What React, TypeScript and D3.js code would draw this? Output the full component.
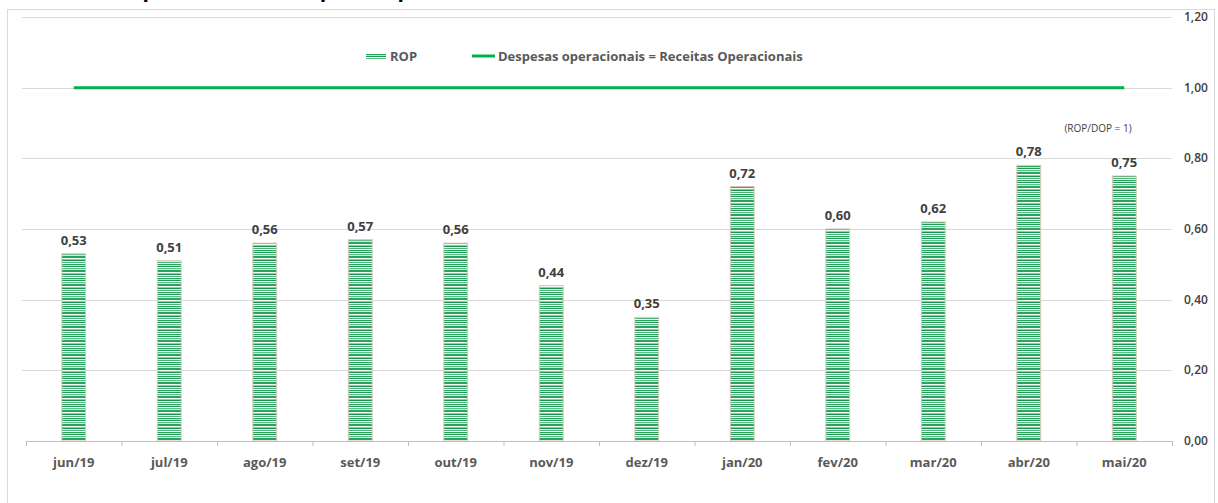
import React, {useEffect, useRef} from 'react';
import * as d3 from 'd3';

// ROP = receitas operacionais / despesas operacionais
const months = ['jun/19', 'jul/19', 'ago/19', 'set/19', 'out/19', 'nov/19', 'dez/19', 'jan/20', 'fev/20', 'mar/20', 'abr/20', 'mai/20'];
const ropValues = [0.53, 0.51, 0.56, 0.57, 0.56, 0.44, 0.35, 0.72, 0.60, 0.62, 0.78, 0.75];
const equilibrio = [1, 1, 1, 1, 1, 1, 1, 1, 1, 1, 1, 1];
const yTicks = [0, 0.2, 0.4, 0.6, 0.8, 1.0, 1.2];

const W = 1218;
const H = 503;
const FONT = '"Open Sans", sans-serif';

function App() {
    const ref = useRef<SVGSVGElement | null>(null);

    useEffect(() => {
        const svg = d3.select(ref.current);
        svg.selectAll('*').remove();

        const fmt = (v: number) => d3.format('.2f')(v).replace('.', ',');

        const x = d3.scaleBand().domain(months).range([26, 1172]).paddingInner(0.75).paddingOuter(0.375);
        const y = d3.scaleLinear().domain([0, 1.2]).range([441, 17]);

        // striped fill for the bars
        const defs = svg.append('defs');
        const pat = defs.append('pattern')
            .attr('id', 'stripes')
            .attr('patternUnits', 'userSpaceOnUse')
            .attr('width', 8)
            .attr('height', 14);
        const stripes = [
            ['#1f9a55', 1], ['#ffffff', 1], ['#5fbb85', 1], ['#cfead9', 1],
            ['#2aa263', 2], ['#f4fbf6', 1], ['#8fcda8', 1], ['#1c8f4e', 1],
            ['#e6f4ea', 1], ['#4db37a', 1], ['#ffffff', 1], ['#2f9f63', 1], ['#bfe3cc', 1]
        ];
        let sy = 0;
        stripes.forEach(([c, h]) => {
            pat.append('rect').attr('x', 0).attr('y', sy).attr('width', 8).attr('height', h as number).attr('fill', c as string);
            sy += h as number;
        });

        // frame
        svg.append('rect')
            .attr('x', 7.5).attr('y', 9.5)
            .attr('width', 1207).attr('height', 520)
            .attr('fill', 'none').attr('stroke', '#d9d9d9');

        // title, mostly above the visible area
        svg.append('text')
            .attr('x', 36).attr('y', -3)
            .attr('font-family', FONT).attr('font-weight', 700).attr('font-size', 21)
            .attr('fill', '#000')
            .text('Receitas operacionais / despesas operacionais');

        // gridlines
        svg.append('g').selectAll('line')
            .data(yTicks.filter((t) => t > 0))
            .enter().append('line')
            .attr('x1', 22).attr('x2', 1172)
            .attr('y1', (d) => Math.round(y(d)) + 0.5).attr('y2', (d) => Math.round(y(d)) + 0.5)
            .attr('stroke', '#d9d9d9').attr('stroke-width', 1);

        // right axis labels
        svg.append('g').selectAll('text')
            .data(yTicks)
            .enter().append('text')
            .attr('x', 1184).attr('y', (d) => y(d) + 4)
            .attr('font-family', FONT).attr('font-size', 12).attr('font-weight', 600)
            .attr('fill', '#404040')
            .text((d) => fmt(d));

        // bars
        svg.append('g').selectAll('rect')
            .data(ropValues)
            .enter().append('rect')
            .attr('x', (_, i) => x(months[i]) as number)
            .attr('y', (d) => y(d))
            .attr('width', x.bandwidth())
            .attr('height', (d) => y(0) - y(d))
            .attr('fill', 'url(#stripes)')
            .attr('stroke', '#d8c8b8').attr('stroke-width', 1);

        // value labels
        svg.append('g').selectAll('text')
            .data(ropValues)
            .enter().append('text')
            .attr('x', (_, i) => (x(months[i]) as number) + x.bandwidth() / 2)
            .attr('y', (d) => y(d) - 9)
            .attr('text-anchor', 'middle')
            .attr('font-family', FONT).attr('font-size', 13).attr('font-weight', 700)
            .attr('fill', '#404040')
            .text((d) => fmt(d));

        // x axis line + ticks
        const axis = svg.append('g');
        axis.append('line')
            .attr('x1', 26).attr('x2', 1172).attr('y1', 441.5).attr('y2', 441.5)
            .attr('stroke', '#bfbfbf');
        const step = x.step();
        axis.selectAll('line.tick')
            .data(d3.range(months.length + 1))
            .enter().append('line')
            .attr('class', 'tick')
            .attr('x1', (i) => 26 + i * step + 0.5).attr('x2', (i) => 26 + i * step + 0.5)
            .attr('y1', 441).attr('y2', 446)
            .attr('stroke', '#bfbfbf');
        axis.selectAll('text')
            .data(months)
            .enter().append('text')
            .attr('x', (d) => (x(d) as number) + x.bandwidth() / 2)
            .attr('y', 467)
            .attr('text-anchor', 'middle')
            .attr('font-family', FONT).attr('font-size', 13).attr('font-weight', 700)
            .attr('fill', '#595959')
            .text((d) => d);

        // line ROP/DOP = 1
        const line = d3.line<number>()
            .x((_, i) => (x(months[i]) as number) + x.bandwidth() / 2)
            .y((d) => y(d));
        svg.append('path')
            .datum(equilibrio)
            .attr('d', line)
            .attr('fill', 'none')
            .attr('stroke', '#00b050')
            .attr('stroke-width', 3);

        svg.append('text')
            .attr('x', 1098).attr('y', 132)
            .attr('text-anchor', 'middle')
            .attr('font-family', FONT).attr('font-size', 10)
            .attr('fill', '#404040')
            .text('(ROP/DOP = 1)');

        // legend
        const lg = svg.append('g').attr('font-family', FONT).attr('font-size', 13).attr('font-weight', 700).attr('fill', '#595959');
        lg.append('rect').attr('x', 366).attr('y', 53).attr('width', 20).attr('height', 6).attr('fill', 'url(#stripes)');
        lg.append('text').attr('x', 390).attr('y', 61).text('ROP');
        lg.append('line').attr('x1', 472).attr('x2', 495).attr('y1', 56).attr('y2', 56).attr('stroke', '#00b050').attr('stroke-width', 3);
        lg.append('text').attr('x', 498).attr('y', 61).text('Despesas operacionais = Receitas Operacionais');
    }, []);

    return (
        <div style={{position: 'absolute', left: 0, top: 0}}>
            <svg ref={ref} width={W} height={H} style={{display: 'block', background: '#fff'}}/>
        </div>
    );
}

export default App;
